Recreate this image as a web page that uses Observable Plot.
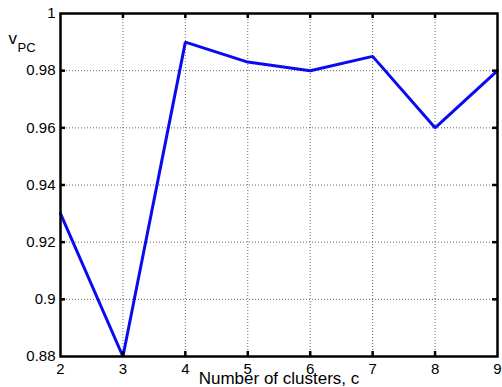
<!DOCTYPE html>
<html>
<head>
<meta charset="utf-8">
<script src="https://cdn.jsdelivr.net/npm/d3@7"></script>
<script src="https://cdn.jsdelivr.net/npm/@observablehq/plot@0.6"></script>
<style>
  html, body { margin: 0; padding: 0; background: #fff; }
  svg { display: block; }
</style>
</head>
<body>
<div id="chart"></div>
<script>
const clusters = [2, 3, 4, 5, 6, 7, 8, 9];
const vpc = [0.93, 0.88, 0.99, 0.983, 0.98, 0.985, 0.96, 0.98];
const xTicks = [2, 3, 4, 5, 6, 7, 8, 9];
const yTicks = [0.88, 0.90, 0.92, 0.94, 0.96, 0.98, 1.00];
const yTickLabels = ["0.88", "0.9", "0.92", "0.94", "0.96", "0.98", "1"];
const xLabel = "Number of clusters, c";
const yLabelMain = "v";
const yLabelSub = "PC";

const data = clusters.map((c, i) => ({c, v: vpc[i]}));
const innerX = xTicks.slice(1, -1);
const innerY = yTicks.slice(1, -1);

const W = 502, H = 387;
const mL = 60, mR = 5, mT = 13, mB = 31;
const pw = W - mL - mR, ph = H - mT - mB;
const tk = 5;

const chart = Plot.plot({
  width: W,
  height: H,
  marginLeft: mL,
  marginRight: mR,
  marginTop: mT,
  marginBottom: mB,
  style: {fontFamily: "'Liberation Sans', Arial, Helvetica, sans-serif", fontSize: "15px", background: "#fff", color: "#000", overflow: "visible"},
  x: {domain: [2, 9]},
  y: {domain: [0.88, 1]},
  marks: [
    Plot.gridX(innerX, {stroke: "#666", strokeOpacity: 1, strokeDasharray: "1,2", strokeWidth: 1}),
    Plot.gridY(innerY, {stroke: "#666", strokeOpacity: 1, strokeDasharray: "1,2", strokeWidth: 1}),
    Plot.line(data, {x: "c", y: "v", stroke: "#0a0af0", strokeWidth: 3, strokeLinejoin: "miter"}),
    Plot.frame({stroke: "#000", strokeWidth: 2.5}),
    Plot.tickX(innerX, {x: d => d, insetTop: ph - tk, stroke: "#000", strokeWidth: 2.5}),
    Plot.tickX(innerX, {x: d => d, insetBottom: ph - tk, stroke: "#000", strokeWidth: 2.5}),
    Plot.tickY(innerY, {y: d => d, insetRight: pw - tk, stroke: "#000", strokeWidth: 2.5}),
    Plot.tickY(innerY, {y: d => d, insetLeft: pw - tk, stroke: "#000", strokeWidth: 2.5}),
    Plot.axisX(xTicks, {tickSize: 0, tickPadding: 7, label: null, fontSize: 15}),
    Plot.axisY(yTicks, {tickSize: 0, tickPadding: 5, label: null, fontSize: 15, tickFormat: (d) => yTickLabels[yTicks.indexOf(d)]}),
    Plot.text([xLabel], {frameAnchor: "bottom", dy: 22, text: d => d, fontSize: 17, lineAnchor: "middle"}),
    Plot.text([yLabelMain], {frameAnchor: "top-left", dx: -52, dy: 25, text: d => d, fontSize: 17, textAnchor: "start", lineAnchor: "middle"}),
    Plot.text([yLabelSub], {frameAnchor: "top-left", dx: -43, dy: 34, text: d => d, fontSize: 13, textAnchor: "start", lineAnchor: "middle"})
  ]
});
document.getElementById("chart").appendChild(chart);
</script>
</body>
</html>
